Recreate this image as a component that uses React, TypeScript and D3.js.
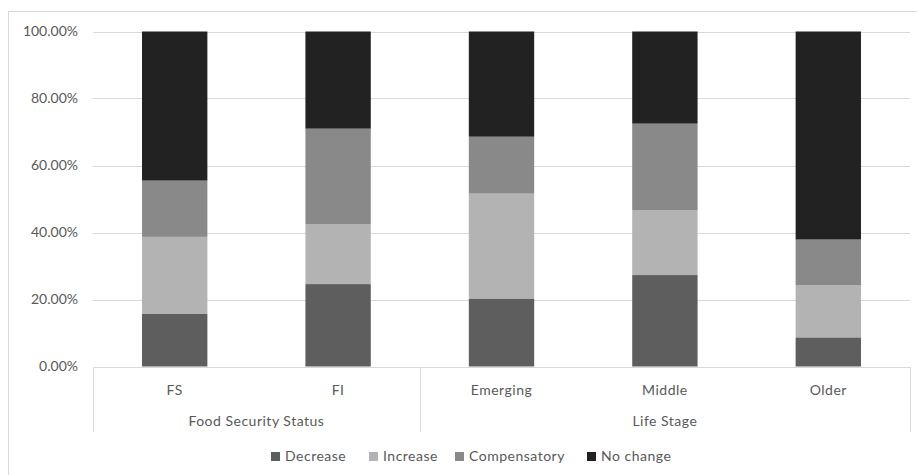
import React from "react";
import * as d3 from "d3";

const categories = ["FS", "FI", "Emerging", "Middle", "Older"];
const groups = [
  { name: "Food Security Status", count: 2 },
  { name: "Life Stage", count: 3 },
];
const seriesNames = ["Decrease", "Increase", "Compensatory", "No change"];
const decrease = [0.158, 0.246, 0.203, 0.273, 0.087];
const increase = [0.229, 0.178, 0.313, 0.194, 0.156];
const compensatory = [0.168, 0.286, 0.170, 0.258, 0.136];
const noChange = [0.445, 0.290, 0.314, 0.275, 0.621];
const yTicks = [0, 0.2, 0.4, 0.6, 0.8, 1.0];
const colors = ["#5e5e5e", "#b3b3b3", "#898989", "#222222"];

const W = 917;
const H = 475;
const FONT = "Lato, 'Open Sans', sans-serif";
const TEXT = "#595959";
const GRID = "#d9d9d9";

export default function App() {
  const x = d3
    .scaleBand<string>()
    .domain(categories)
    .range([93, 910])
    .paddingInner(0.6)
    .paddingOuter(0.3);
  const y = d3.scaleLinear().domain([0, 1]).range([366.5, 31.5]);

  const rows = categories.map((c, i) => ({
    cat: c,
    Decrease: decrease[i],
    Increase: increase[i],
    Compensatory: compensatory[i],
    "No change": noChange[i],
  }));
  const stacked = d3.stack<any>().keys(seriesNames)(rows);
  const step = x.step();
  const x0 = x.range()[0];
  const x1 = x.range()[1];

  let acc = 0;
  const groupBounds = groups.map((g) => {
    const start = x0 + acc * step;
    acc += g.count;
    const end = x0 + acc * step;
    return { ...g, start, end };
  });

  const legendX = [271, 369, 455, 587];
  const labelProps = { fontFamily: FONT, fontSize: 14, fill: TEXT, letterSpacing: 0.5 };

  return (
    <svg width={W} height={H} style={{ position: "absolute", left: 0, top: 0, background: "#fff" }}>
      <rect x={8.5} y={11.5} width={W + 10} height={H + 10} fill="#fff" stroke={GRID} strokeWidth={1} />
      {yTicks.map((t) => (
        <g key={t}>
          <line x1={x0} x2={x1} y1={Math.round(y(t)) + 0.5} y2={Math.round(y(t)) + 0.5} stroke={GRID} strokeWidth={1} />
          <text
            x={78}
            y={y(t)}
            dy="0.35em"
            textAnchor="end"
            fontFamily={FONT}
            fontSize={14}
            fill={TEXT}
          >
            {d3.format(".2%")(t)}
          </text>
        </g>
      ))}
      {stacked.map((s, si) => (
        <g key={s.key} fill={colors[si]}>
          {s.map((d, i) => (
            <rect
              key={i}
              x={x(categories[i])!}
              width={x.bandwidth()}
              y={y(d[1])}
              height={y(d[0]) - y(d[1])}
            />
          ))}
        </g>
      ))}
      {/* category axis */}
      <line x1={x0} x2={x1} y1={367.5} y2={367.5} stroke={GRID} strokeWidth={1} />
      {[x0, ...groupBounds.map((g) => g.end)].map((bx, i) => (
        <line key={i} x1={Math.round(bx) + 0.5} x2={Math.round(bx) + 0.5} y1={367} y2={432} stroke={GRID} strokeWidth={1} />
      ))}
      {categories.map((c) => (
        <text key={c} x={x(c)! + x.bandwidth() / 2} y={390} dy="0.35em" textAnchor="middle" {...labelProps}>
          {c}
        </text>
      ))}
      {groupBounds.map((g) => (
        <text key={g.name} x={(g.start + g.end) / 2} y={421} dy="0.35em" textAnchor="middle" {...labelProps}>
          {g.name}
        </text>
      ))}
      {seriesNames.map((n, i) => (
        <g key={n}>
          <rect x={legendX[i]} y={452} width={9} height={9} fill={colors[i]} />
          <text x={legendX[i] + 14} y={456.5} dy="0.35em" {...labelProps}>
            {n}
          </text>
        </g>
      ))}
    </svg>
  );
}
